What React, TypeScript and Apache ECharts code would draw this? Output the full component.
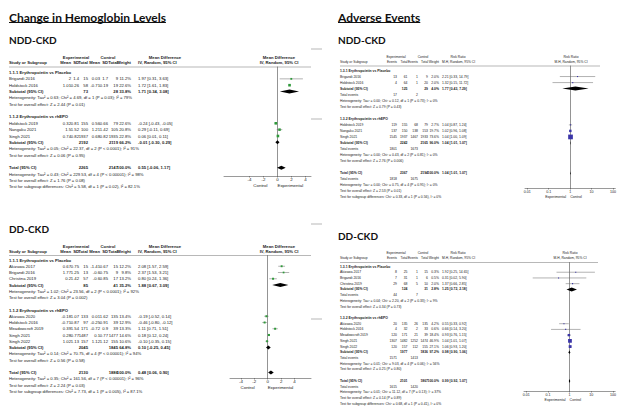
import React, { useEffect, useRef } from "react";
import * as echarts from "echarts";

// ================= DATA =================
// --- Change in Hemoglobin Levels: NDD-CKD (Mean Difference, IV, Random, 95% CI)
const hbNddGroups = ["1.1.1 Erythropoietin vs Placebo", "1.1.2 Erythropoietin vs rhEPO"];
const hbNddStudies = ["Brigandi 2016", "Holdstock 2016", "Holdstock 2019", "Nangaku 2021", "Singh 2021"];
const hbNddGroupOf = [0, 0, 1, 1, 1];
const hbNddExpMean = [2, 1.01, 0.32, 1.5, 0.74];
const hbNddExpSD = [1.4, 0.26, 0.81, 1.52, 0.82];
const hbNddExpN = [15, 58, 155, 100, 1937];
const hbNddCtlMean = [0.03, -0.71, 0.56, 1.21, 0.68];
const hbNddCtlSD = [1.7, 0.19, 0.66, 1.42, 0.82];
const hbNddCtlN = [9, 19, 79, 105, 1935];
const hbNddWeight = [11.2, 22.6, 22.6, 20.8, 22.8];
const hbNddMD = [1.97, 1.72, -0.24, 0.29, 0.06];
const hbNddLo = [0.31, 1.61, -0.43, -0.11, 0.01];
const hbNddHi = [3.63, 1.83, -0.05, 0.69, 0.11];
const hbNddSubWeight = [33.8, 66.2];
const hbNddSubMD = [1.71, -0.01];
const hbNddSubLo = [0.34, -0.3];
const hbNddSubHi = [3.08, 0.29];
const hbNddTotal = [0.55, -0.06, 1.17];
const hbNddHet = [
  "Heterogeneity: Tau² = 0.63; Chi² = 4.69, df = 1 (P = 0.03); I² = 79%",
  "Heterogeneity: Tau² = 0.05; Chi² = 22.37, df = 2 (P < 0.0001); I² = 91%",
  "Heterogeneity: Tau² = 0.43; Chi² = 229.53, df = 4 (P < 0.00001); I² = 98%",
];
const hbNddTest = [
  "Test for overall effect: Z = 2.44 (P = 0.01)",
  "Test for overall effect: Z = 0.06 (P = 0.95)",
  "Test for overall effect: Z = 1.76 (P = 0.08)",
];
const hbNddSubgroupTest = "Test for subgroup differences: Chi² = 5.58, df = 1 (P = 0.02), I² = 82.1%";

// --- Change in Hemoglobin Levels: DD-CKD
const hbDdGroups = ["1.1.1 Erythropoietin vs Placebo", "1.1.2 Erythropoietin vs rhEPO"];
const hbDdStudies = ["Akizawa 2017", "Brigandi 2016", "Christina 2019", "Akizawa 2020", "Holdstock 2016", "Meadowcroft 2019", "Singh 2021", "Singh 2022"];
const hbDdGroupOf = [0, 0, 0, 1, 1, 1, 1, 1];
const hbDdExpMean = [0.67, 1.77, 0.2, -0.18, -0.71, 0.39, 0.28, 1.02];
const hbDdExpSD = [0.75, 1.25, 1.42, 1.07, 0.87, 1.54, 0.77, 1.13];
const hbDdExpN = [15, 13, 57, 133, 97, 171, 1487, 157];
const hbDdCtlMean = [-1.41, -0.6, -0.6, 0.01, -0.25, -0.72, 0.1, 1.12];
const hbDdCtlSD = [0.67, 0.75, 0.85, 1.62, 0.91, 0.9, 0.77, 1.12];
const hbDdCtlN = [15, 9, 17, 135, 39, 39, 1477, 155];
const hbDdWeight = [12.2, 9.8, 13.2, 13.4, 12.9, 13.3, 14.6, 10.6];
const hbDdMD = [2.08, 2.37, 0.8, -0.19, -0.46, 1.11, 0.18, -0.1];
const hbDdLo = [1.57, 1.53, 0.24, -0.52, -0.8, 0.71, 0.12, -0.35];
const hbDdHi = [2.59, 3.21, 1.36, 0.14, -0.12, 1.51, 0.24, 0.15];
const hbDdSubWeight = [35.2, 64.8];
const hbDdSubMD = [1.88, 0.1];
const hbDdSubLo = [0.67, -0.25];
const hbDdSubHi = [3.09, 0.45];
const hbDdTotal = [0.48, 0.06, 0.9];
const hbDdHet = [
  "Heterogeneity: Tau² = 1.02; Chi² = 23.56, df = 2 (P < 0.0001); I² = 92%",
  "Heterogeneity: Tau² = 0.14; Chi² = 70.75, df = 4 (P < 0.00001); I² = 94%",
  "Heterogeneity: Tau² = 0.35; Chi² = 161.56, df = 7 (P < 0.00001); I² = 96%",
];
const hbDdTest = [
  "Test for overall effect: Z = 3.04 (P = 0.002)",
  "Test for overall effect: Z = 0.56 (P = 0.58)",
  "Test for overall effect: Z = 2.24 (P = 0.03)",
];
const hbDdSubgroupTest = "Test for subgroup differences: Chi² = 7.73, df = 1 (P = 0.005), I² = 87.1%";

// --- Adverse Events: NDD-CKD (Risk Ratio, M-H, Random, 95% CI)
const aeNddGroups = ["1.3.1 Erythropoietin vs Placebo", "1.3.2 Erythropoietin vs rhEPO"];
const aeNddStudies = ["Brigandi 2016", "Holdstock 2016", "Holdstock 2019", "Nangaku 2021", "Singh 2021"];
const aeNddGroupOf = [0, 0, 1, 1, 1];
const aeNddExpEvents = [13, 4, 119, 137, 1545];
const aeNddExpN = [61, 64, 155, 150, 1937];
const aeNddCtlEvents = [1, 1, 68, 138, 1467];
const aeNddCtlN = [9, 20, 79, 153, 1933];
const aeNddWeight = [2.0, 2.0, 2.7, 19.7, 73.6];
const aeNddRR = [2.21, 1.32, 1.04, 1.02, 1.04];
const aeNddLo = [0.33, 0.15, 0.87, 0.96, 1.0];
const aeNddHi = [14.79, 11.72, 1.24, 1.08, 1.09];
const aeNddSubWeight = [4.0, 96.0];
const aeNddSubRR = [1.77, 1.04];
const aeNddSubLo = [0.43, 1.01];
const aeNddSubHi = [7.29, 1.07];
const aeNddTotal = [1.04, 1.01, 1.07];
const aeNddHet = [
  "Heterogeneity: Tau² = 0.00; Chi² = 0.12, df = 1 (P = 0.73); I² = 0%",
  "Heterogeneity: Tau² = 0.00; Chi² = 0.43, df = 2 (P = 0.81); I² = 0%",
  "Heterogeneity: Tau² = 0.00; Chi² = 0.75, df = 4 (P = 0.95); I² = 0%",
];
const aeNddTest = [
  "Test for overall effect: Z = 0.79 (P = 0.43)",
  "Test for overall effect: Z = 2.76 (P = 0.006)",
  "Test for overall effect: Z = 2.53 (P = 0.01)",
];
const aeNddSubgroupTest = "Test for subgroup differences: Chi² = 0.33, df = 1 (P = 0.56), I² = 0%";

// --- Adverse Events: DD-CKD
const aeDdGroups = ["1.3.1 Erythropoietin vs Placebo", "1.3.2 Erythropoietin vs rhEPO"];
const aeDdStudies = ["Akizawa 2017", "Brigandi 2016", "Christina 2019", "Akizawa 2020", "Holdstock 2016", "Meadowcroft 2019", "Singh 2021", "Singh 2022"];
const aeDdGroupOf = [0, 0, 0, 1, 1, 1, 1, 1];
const aeDdExpEvents = [8, 7, 29, 20, 4, 120, 1307, 120];
const aeDdExpN = [25, 31, 68, 135, 32, 171, 1482, 157];
const aeDdCtlEvents = [1, 1, 5, 26, 2, 21, 1252, 112];
const aeDdCtlN = [15, 6, 10, 135, 33, 39, 1474, 155];
const aeDdWeight = [0.3, 0.5, 2.0, 4.2, 0.6, 18.4, 46.9, 27.1];
const aeDdRR = [1.92, 0.31, 1.37, 0.55, 0.66, 0.93, 1.04, 1.06];
const aeDdLo = [0.25, 0.02, 0.66, 0.33, 0.14, 0.76, 1.01, 0.93];
const aeDdHi = [14.65, 5.9, 2.85, 0.92, 3.2, 1.15, 1.07, 1.2];
const aeDdSubWeight = [2.8, 97.2];
const aeDdSubRR = [1.25, 0.98];
const aeDdSubLo = [0.72, 0.9];
const aeDdSubHi = [2.18, 1.06];
const aeDdTotal = [0.99, 0.92, 1.07];
const aeDdHet = [
  "Heterogeneity: Tau² = 0.04; Chi² = 2.20, df = 2 (P = 0.33); I² = 9%",
  "Heterogeneity: Tau² = 0.01; Chi² = 9.03, df = 4 (P = 0.06); I² = 56%",
  "Heterogeneity: Tau² = 0.01; Chi² = 11.12, df = 7 (P = 0.13); I² = 37%",
];
const aeDdTest = [
  "Test for overall effect: Z = 0.34 (P = 0.73)",
  "Test for overall effect: Z = 0.25 (P = 0.80)",
  "Test for overall effect: Z = 0.14 (P = 0.89)",
];
const aeDdSubgroupTest = "Test for subgroup differences: Chi² = 0.68, df = 1 (P = 0.41), I² = 0%";

const mdTicks = [-4, -2, 0, 2, 4];
const rrTicks = [0.01, 0.1, 1, 10, 100];
const rrTickLabels = ["0.01", "0.1", "1", "10", "100"];

// ================= BUILDERS =================
type Mark = { est: number; lo: number; hi: number; w: number; diamond: boolean };
type Row = { label: string; bold?: boolean; cells?: string[]; mark?: Mark };

const f2 = (v: number) => v.toFixed(2);
const ciText = (e: number, l: number, h: number) => `${f2(e)} [${f2(l)}, ${f2(h)}]`;
const pct = (w: number) => `${w.toFixed(1)}%`;
const sum = (a: number[]) => a.reduce((s, v) => s + v, 0);

function buildMd(d: any): Row[] {
  const rows: Row[] = [];
  d.groups.forEach((g: string, gi: number) => {
    rows.push({ label: g, bold: true });
    const idx = d.studies.map((_: any, i: number) => i).filter((i: number) => d.groupOf[i] === gi);
    idx.forEach((i: number) =>
      rows.push({
        label: d.studies[i],
        cells: [String(d.expMean[i]), String(d.expSD[i]), String(d.expN[i]), String(d.ctlMean[i]), String(d.ctlSD[i]), String(d.ctlN[i]), pct(d.weight[i]), ciText(d.est[i], d.lo[i], d.hi[i])],
        mark: { est: d.est[i], lo: d.lo[i], hi: d.hi[i], w: d.weight[i], diamond: false },
      })
    );
    rows.push({
      label: "Subtotal (95% CI)", bold: true,
      cells: ["", "", String(sum(idx.map((i: number) => d.expN[i]))), "", "", String(sum(idx.map((i: number) => d.ctlN[i]))), pct(d.subW[gi]), ciText(d.subE[gi], d.subL[gi], d.subH[gi])],
      mark: { est: d.subE[gi], lo: d.subL[gi], hi: d.subH[gi], w: d.subW[gi], diamond: true },
    });
    rows.push({ label: d.het[gi] });
    rows.push({ label: d.test[gi] });
    rows.push({ label: "" });
  });
  rows.push({
    label: "Total (95% CI)", bold: true,
    cells: ["", "", String(sum(d.expN)), "", "", String(sum(d.ctlN)), "100.0%", ciText(d.tot[0], d.tot[1], d.tot[2])],
    mark: { est: d.tot[0], lo: d.tot[1], hi: d.tot[2], w: 100, diamond: true },
  });
  rows.push({ label: d.het[2] });
  rows.push({ label: d.test[2] });
  rows.push({ label: d.sub });
  return rows;
}

function buildRr(d: any): Row[] {
  const rows: Row[] = [];
  d.groups.forEach((g: string, gi: number) => {
    rows.push({ label: g, bold: true });
    const idx = d.studies.map((_: any, i: number) => i).filter((i: number) => d.groupOf[i] === gi);
    idx.forEach((i: number) =>
      rows.push({
        label: d.studies[i],
        cells: [String(d.expEv[i]), String(d.expN[i]), String(d.ctlEv[i]), String(d.ctlN[i]), pct(d.weight[i]), ciText(d.est[i], d.lo[i], d.hi[i])],
        mark: { est: d.est[i], lo: d.lo[i], hi: d.hi[i], w: d.weight[i], diamond: false },
      })
    );
    rows.push({
      label: "Subtotal (95% CI)", bold: true,
      cells: ["", String(sum(idx.map((i: number) => d.expN[i]))), "", String(sum(idx.map((i: number) => d.ctlN[i]))), pct(d.subW[gi]), ciText(d.subE[gi], d.subL[gi], d.subH[gi])],
      mark: { est: d.subE[gi], lo: d.subL[gi], hi: d.subH[gi], w: d.subW[gi], diamond: true },
    });
    rows.push({ label: "Total events", cells: [String(sum(idx.map((i: number) => d.expEv[i]))), "", String(sum(idx.map((i: number) => d.ctlEv[i]))), "", "", ""] });
    rows.push({ label: d.het[gi] });
    rows.push({ label: d.test[gi] });
    rows.push({ label: "" });
  });
  rows.push({
    label: "Total (95% CI)", bold: true,
    cells: ["", String(sum(d.expN)), "", String(sum(d.ctlN)), "100.0%", ciText(d.tot[0], d.tot[1], d.tot[2])],
    mark: { est: d.tot[0], lo: d.tot[1], hi: d.tot[2], w: 100, diamond: true },
  });
  rows.push({ label: "Total events", cells: [String(sum(d.expEv)), "", String(sum(d.ctlEv)), "", "", ""] });
  rows.push({ label: d.het[2] });
  rows.push({ label: d.test[2] });
  rows.push({ label: d.sub });
  return rows;
}

const hbNddRows = buildMd({ groups: hbNddGroups, studies: hbNddStudies, groupOf: hbNddGroupOf, expMean: hbNddExpMean, expSD: hbNddExpSD, expN: hbNddExpN, ctlMean: hbNddCtlMean, ctlSD: hbNddCtlSD, ctlN: hbNddCtlN, weight: hbNddWeight, est: hbNddMD, lo: hbNddLo, hi: hbNddHi, subW: hbNddSubWeight, subE: hbNddSubMD, subL: hbNddSubLo, subH: hbNddSubHi, tot: hbNddTotal, het: hbNddHet, test: hbNddTest, sub: hbNddSubgroupTest });
const hbDdRows = buildMd({ groups: hbDdGroups, studies: hbDdStudies, groupOf: hbDdGroupOf, expMean: hbDdExpMean, expSD: hbDdExpSD, expN: hbDdExpN, ctlMean: hbDdCtlMean, ctlSD: hbDdCtlSD, ctlN: hbDdCtlN, weight: hbDdWeight, est: hbDdMD, lo: hbDdLo, hi: hbDdHi, subW: hbDdSubWeight, subE: hbDdSubMD, subL: hbDdSubLo, subH: hbDdSubHi, tot: hbDdTotal, het: hbDdHet, test: hbDdTest, sub: hbDdSubgroupTest });
const aeNddRows = buildRr({ groups: aeNddGroups, studies: aeNddStudies, groupOf: aeNddGroupOf, expEv: aeNddExpEvents, expN: aeNddExpN, ctlEv: aeNddCtlEvents, ctlN: aeNddCtlN, weight: aeNddWeight, est: aeNddRR, lo: aeNddLo, hi: aeNddHi, subW: aeNddSubWeight, subE: aeNddSubRR, subL: aeNddSubLo, subH: aeNddSubHi, tot: aeNddTotal, het: aeNddHet, test: aeNddTest, sub: aeNddSubgroupTest });
const aeDdRows = buildRr({ groups: aeDdGroups, studies: aeDdStudies, groupOf: aeDdGroupOf, expEv: aeDdExpEvents, expN: aeDdExpN, ctlEv: aeDdCtlEvents, ctlN: aeDdCtlN, weight: aeDdWeight, est: aeDdRR, lo: aeDdLo, hi: aeDdHi, subW: aeDdSubWeight, subE: aeDdSubRR, subL: aeDdSubLo, subH: aeDdSubHi, tot: aeDdTotal, het: aeDdHet, test: aeDdTest, sub: aeDdSubgroupTest });

// ================= LAYOUT =================
const TABLE_FONT = "'Liberation Sans', Arial, sans-serif";
const TITLE_FONT = "Lato, 'Open Sans', sans-serif";
const INK = "#1a1a1a";

type Layout = {
  kind: "md" | "rr"; rows: Row[]; left: number; font: number; hdrFont: number; hdrBold: boolean; grpY: number; colY: number; lineY: number; lineX2: number;
  row1Y: number; pitch: number; axisY: number; gLeft: number; gRight: number; zeroX: number; unitPx: number;
  fHdrX: number; cols: number[]; ciX: number; grpX: number[]; capGapL: number; capGapR: number;
};

const panels: Layout[] = [
  { kind: "md", rows: hbNddRows, left: 9, font: 4.2, hdrFont: 4.2, hdrBold: true, grpY: 57, colY: 62, lineY: 67, lineX2: 311, row1Y: 72.5, pitch: 6.35, axisY: 176,
    gLeft: 224, gRight: 311, zeroX: 277.5, unitPx: 7, fHdrX: 279, cols: [71, 79, 88, 100, 108, 118, 131], ciX: 138, grpX: [76, 108, 165], capGapL: 10, capGapR: 0 },
  { kind: "rr", rows: aeNddRows, left: 340, font: 3.4, hdrFont: 3.3, hdrBold: false, grpY: 57, colY: 62, lineY: 66, lineX2: 600, row1Y: 70.5, pitch: 6.04, axisY: 188,
    gLeft: 525, gRight: 619, zeroX: 572, unitPx: 22.3, fHdrX: 571, cols: [397, 407.5, 418, 428, 439], ciX: 442, grpX: [396, 423, 458], capGapL: 4, capGapR: 0 },
  { kind: "md", rows: hbDdRows, left: 9, font: 4.2, hdrFont: 4.2, hdrBold: true, grpY: 246.5, colY: 251.5, lineY: 255.5, lineX2: 311, row1Y: 260, pitch: 6.25, axisY: 378,
    gLeft: 230, gRight: 311, zeroX: 267.7, unitPx: 6.7, fHdrX: 279, cols: [71, 79, 88, 100, 108, 118, 131], ciX: 138, grpX: [76, 108, 165], capGapL: 13, capGapR: 0 },
  { kind: "rr", rows: aeDdRows, left: 340, font: 3.4, hdrFont: 3.3, hdrBold: false, grpY: 253, colY: 258, lineY: 262.5, lineX2: 598, row1Y: 266.5, pitch: 5.72, axisY: 391,
    gLeft: 524, gRight: 616, zeroX: 570, unitPx: 21.9, fHdrX: 570, cols: [397, 407.5, 418, 428, 439], ciX: 442, grpX: [396, 423, 458], capGapL: 4, capGapR: 0 },
];

const tx = (v: number, kind: string) => (kind === "rr" ? Math.log10(v) : v);

function measure(text: string, font: string) {
  const c = document.createElement("canvas").getContext("2d");
  if (!c) return text.length * 6;
  c.font = font;
  return c.measureText(text).width;
}

function buildOption() {
  const grid: any[] = [], xAxis: any[] = [], yAxis: any[] = [], series: any[] = [], elements: any[] = [];

  panels.forEach((p, pi) => {
    const yMax = (p.axisY - p.lineY) / p.pitch;
    const rowVal = (i: number) => (p.row1Y - p.lineY) / p.pitch + i;
    const tickFont = p.kind === "md" ? 4.4 : 3.6;
    grid.push({ left: p.gLeft, top: p.lineY, width: p.gRight - p.gLeft, height: p.axisY - p.lineY, containLabel: false });
    xAxis.push({
      gridIndex: pi, type: "value",
      min: (p.gLeft - p.zeroX) / p.unitPx, max: (p.gRight - p.zeroX) / p.unitPx,
      axisLine: { show: true, onZero: false, lineStyle: { color: "#555", width: 0.6 } },
      axisTick: { show: true, length: 1.5, lineStyle: { color: "#555", width: 0.6 },
        customValues: p.kind === "md" ? mdTicks : rrTicks.map((t) => Math.log10(t)) },
      axisLabel: { show: true, margin: 1.5, fontSize: tickFont, color: INK, fontFamily: TABLE_FONT,
        customValues: p.kind === "md" ? mdTicks : rrTicks.map((t) => Math.log10(t)),
        formatter: (v: number) => (p.kind === "md" ? String(v) : rrTickLabels[Math.round(v) + 2]) },
      splitLine: { show: false },
    });
    yAxis.push({
      gridIndex: pi, type: "value", inverse: true, min: 0, max: yMax,
      axisLine: { show: true, onZero: true, lineStyle: { color: "#666", width: 0.7 } },
      axisTick: { show: false }, axisLabel: { show: false }, splitLine: { show: false },
    });

    // markers (squares + CI lines, diamonds)
    const markData: number[][] = [];
    p.rows.forEach((r, i) => {
      if (r.mark) markData.push([rowVal(i), tx(r.mark.est, p.kind), tx(r.mark.lo, p.kind), tx(r.mark.hi, p.kind), r.mark.w, r.mark.diamond ? 1 : 0]);
    });
    const sqColor = p.kind === "md" ? "#2f9a3a" : "#3b35a8";
    series.push({
      type: "custom", xAxisIndex: pi, yAxisIndex: pi, clip: false, silent: true, z: 5,
      encode: { x: [1, 2, 3], y: 0 },
      data: markData,
      renderItem: (params: any, api: any) => {
        const yv = api.value(0);
        const [xe, y] = api.coord([api.value(1), yv]);
        const xl = api.coord([api.value(2), yv])[0];
        const xh = api.coord([api.value(3), yv])[0];
        if (api.value(5) === 1) {
          return { type: "polygon", shape: { points: [[xl, y], [xe, y - 2], [xh, y], [xe, y + 2]] }, style: { fill: "#000" } };
        }
        const s = Math.max(1.1, 0.55 * Math.sqrt(api.value(4)));
        return {
          type: "group",
          children: [
            { type: "line", shape: { x1: xl, y1: y, x2: xh, y2: y }, style: { stroke: "#666", lineWidth: 0.5 } },
            { type: "rect", shape: { x: xe - s / 2, y: y - s / 2, width: s, height: s }, style: { fill: sqColor } },
          ],
        };
      },
    });

    // table texts
    series.push({
      type: "custom", xAxisIndex: pi, yAxisIndex: pi, clip: false, silent: true, z: 4,
      encode: { x: 0, y: 1 },
      data: p.rows.map((_, i) => [0, rowVal(i)]),
      renderItem: (params: any, api: any) => {
        const r = p.rows[params.dataIndex];
        const y = api.coord([0, api.value(1)])[1];
        const fw = r.bold ? "bold" : "normal";
        const children: any[] = [];
        if (r.label) children.push({ type: "text", style: { text: r.label, x: p.left, y, fill: INK, fontSize: p.font, fontFamily: TABLE_FONT, fontWeight: fw, align: "left", verticalAlign: "middle" } });
        (r.cells || []).forEach((c, ci) => {
          if (!c) return;
          const last = ci === (r.cells as string[]).length - 1;
          children.push({ type: "text", style: { text: c, x: last ? p.ciX : p.cols[ci], y, fill: INK, fontSize: p.font, fontFamily: TABLE_FONT, fontWeight: fw, align: last ? "left" : "right", verticalAlign: "middle" } });
        });
        return { type: "group", children };
      },
    });

    // axis captions
    const capL = p.kind === "md" ? "Control" : "Experimental";
    const capR = p.kind === "md" ? "Experimental" : "Control";
    series.push({
      type: "custom", xAxisIndex: pi, yAxisIndex: pi, clip: false, silent: true,
      encode: { x: 0, y: 1 },
      data: [[0, yMax]],
      renderItem: (params: any, api: any) => {
        const [x0, y0] = api.coord([0, api.value(1)]);
        const cy = y0 + (p.kind === "md" ? 9.5 : 8.5);
        return {
          type: "group",
          children: [
            { type: "text", style: { text: capL, x: x0 - p.capGapL, y: cy, fill: INK, fontSize: tickFont, fontFamily: TABLE_FONT, align: "right", verticalAlign: "middle" } },
            { type: "text", style: { text: capR, x: x0 + p.capGapR, y: cy, fill: INK, fontSize: tickFont, fontFamily: TABLE_FONT, align: "left", verticalAlign: "middle" } },
          ],
        };
      },
    });

    // header texts
    const hs = { fill: INK, fontSize: p.hdrFont, fontFamily: TABLE_FONT, fontWeight: p.hdrBold ? "bold" : "normal", verticalAlign: "middle" };
    const groupHdr = p.kind === "md" ? ["Experimental", "Control", "Mean Difference"] : ["Experimental", "Control", "Risk Ratio"];
    groupHdr.forEach((t, k) => elements.push({ type: "text", silent: true, style: { ...hs, text: t, x: p.grpX[k], y: p.grpY, align: "center" } }));
    const colHdr = p.kind === "md" ? ["Mean", "SD", "Total", "Mean", "SD", "Total", "Weight"] : ["Events", "Total", "Events", "Total", "Weight"];
    elements.push({ type: "text", silent: true, style: { ...hs, text: "Study or Subgroup", x: p.left, y: p.colY, align: "left" } });
    colHdr.forEach((t, k) => elements.push({ type: "text", silent: true, style: { ...hs, text: t, x: p.cols[k], y: p.colY, align: "right" } }));
    const method = p.kind === "md" ? "IV, Random, 95% CI" : "M-H, Random, 95% CI";
    elements.push({ type: "text", silent: true, style: { ...hs, text: method, x: p.ciX, y: p.colY, align: "left" } });
    elements.push({ type: "text", silent: true, style: { ...hs, text: groupHdr[2], x: p.fHdrX, y: p.grpY, align: "center" } });
    elements.push({ type: "text", silent: true, style: { ...hs, text: method, x: p.fHdrX, y: p.colY, align: "center" } });
    elements.push({ type: "line", silent: true, shape: { x1: p.left, y1: p.lineY, x2: p.lineX2, y2: p.lineY }, style: { stroke: "#888", lineWidth: 0.6 } });
  });

  // titles
  const titles: [string, number, number, number, boolean][] = [
    ["Change in Hemoglobin Levels", 9, 17, 12, true],
    ["Adverse Events", 338, 17, 12, true],
    ["NDD-CKD", 9, 40, 10, false],
    ["NDD-CKD", 338, 40, 10, false],
    ["DD-CKD", 9, 229, 10, false],
    ["DD-CKD", 338, 236, 10, false],
  ];
  titles.forEach(([t, x, y, fs, ul]) => {
    elements.push({ type: "text", silent: true, style: { text: t, x, y, fill: "#111", fontSize: fs, fontWeight: "bold", fontFamily: TITLE_FONT, align: "left", verticalAlign: "middle" } });
    if (ul) {
      const w = measure(t, `bold ${fs}px Lato`);
      elements.push({ type: "line", silent: true, shape: { x1: x, y1: y + 5.5, x2: x + w, y2: y + 5.5 }, style: { stroke: "#111", lineWidth: 1 } });
    }
  });
  // short gray marks between panels
  [49, 119, 224, 319].forEach((y) =>
    elements.push({ type: "line", silent: true, shape: { x1: 311, y1: y, x2: 322, y2: y }, style: { stroke: "#999", lineWidth: 0.7 } })
  );

  return { animation: false, backgroundColor: "#ffffff", grid, xAxis, yAxis, series, graphic: { elements } };
}

export default function App() {
  const ref = useRef<HTMLDivElement>(null);
  useEffect(() => {
    document.body.style.margin = "0";
    if (!ref.current) return;
    const chart = echarts.init(ref.current, null, { renderer: "svg" });
    chart.setOption(buildOption() as any);
    return () => chart.dispose();
  }, []);
  return <div ref={ref} style={{ position: "fixed", left: 0, top: 0, width: 619, height: 407, background: "#fff" }} />;
}
